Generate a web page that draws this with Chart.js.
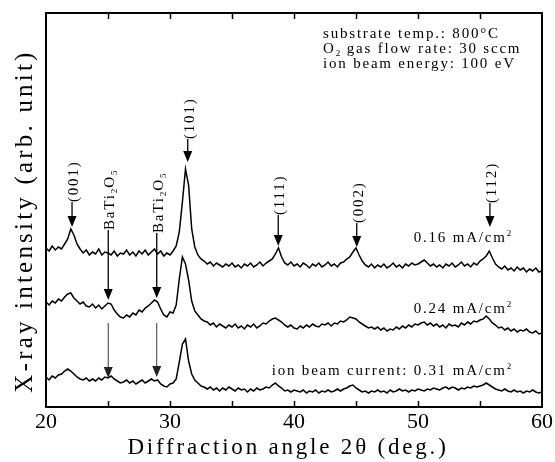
<!DOCTYPE html>
<html>
<head>
<meta charset="utf-8">
<script src="https://cdn.jsdelivr.net/npm/chart.js@4/dist/chart.umd.min.js"></script>
<style>
  html, body { margin: 0; padding: 0; background: #fff; }
  #wrap { width: 555px; height: 462px; }
</style>
</head>
<body>
<div id="wrap"><canvas id="c" width="555" height="462"></canvas></div>
<script>
// ---- data (2θ in degrees, intensity in arbitrary units) ----
const angles = [
  20,20.25,20.5,20.75,21,21.25,21.5,21.75,
  22,22.25,22.5,22.75,23,23.25,23.5,23.75,
  24,24.25,24.5,24.75,25,25.25,25.5,25.75,
  26,26.25,26.5,26.75,27,27.25,27.5,27.75,
  28,28.25,28.5,28.75,29,29.25,29.5,29.75,
  30,30.25,30.5,30.75,31,31.25,31.5,31.75,
  32,32.25,32.5,32.75,33,33.25,33.5,33.75,
  34,34.25,34.5,34.75,35,35.25,35.5,35.75,
  36,36.25,36.5,36.75,37,37.25,37.5,37.75,
  38,38.25,38.5,38.75,39,39.25,39.5,39.75,
  40,40.25,40.5,40.75,41,41.25,41.5,41.75,
  42,42.25,42.5,42.75,43,43.25,43.5,43.75,
  44,44.25,44.5,44.75,45,45.25,45.5,45.75,
  46,46.25,46.5,46.75,47,47.25,47.5,47.75,
  48,48.25,48.5,48.75,49,49.25,49.5,49.75,
  50,50.25,50.5,50.75,51,51.25,51.5,51.75,
  52,52.25,52.5,52.75,53,53.25,53.5,53.75,
  54,54.25,54.5,54.75,55,55.25,55.5,55.75,
  56,56.25,56.5,56.75,57,57.25,57.5,57.75,
  58,58.25,58.5,58.75,59,59.25,59.5,59.75,
  60
];
// ion beam current 0.16 mA/cm2 (top trace)
const current016 = [
  159,156,161,157,160,158,163,168,
  178,172,163,158,154,157,152,155,
  153,158,152,155,154,152,156,151,
  154,153,157,152,155,151,156,153,
  157,152,155,158,153,156,151,154,
  152,156,161,175,205,238,222,178,
  160,152,148,146,143,145,141,144,
  142,140,143,141,144,140,142,139,
  143,141,144,140,142,145,141,144,
  146,148,153,159,150,144,142,145,
  141,143,140,144,142,139,143,141,
  144,140,142,145,141,143,140,144,
  145,148,150,155,159,152,146,142,
  140,143,139,142,140,143,139,141,
  144,140,142,139,143,141,144,142,
  143,145,147,144,141,143,140,142,
  139,143,141,144,140,142,145,141,
  143,140,144,142,146,148,151,156,
  149,143,140,138,141,137,139,136,
  140,137,139,135,138,136,139,135,
  136
];
// ion beam current 0.24 mA/cm2 (middle trace)
const current024 = [
  105,102,106,104,108,106,110,113,
  114,109,106,103,105,101,100,103,
  99,102,98,101,104,103,97,93,
  90,89,92,90,94,92,97,95,
  99,101,104,107,105,98,92,90,
  95,94,102,128,150,143,127,106,
  96,92,88,86,85,82,84,80,
  83,81,79,82,80,83,79,81,
  78,82,80,83,79,81,84,83,
  86,88,89,87,85,82,80,82,
  79,78,81,79,82,80,83,81,
  80,83,82,84,81,84,83,86,
  85,87,90,89,88,85,83,81,
  79,80,78,80,77,79,76,78,
  77,80,78,81,79,82,80,83,
  82,84,85,82,84,81,83,80,
  82,79,83,81,82,80,84,82,
  85,83,86,85,87,88,91,88,
  84,82,79,80,77,79,76,78,
  75,77,76,78,75,74,76,73,
  74
];
// ion beam current 0.31 mA/cm2 (bottom trace)
const current031 = [
  30,27,31,29,32,33,36,38,
  36,33,30,28,27,29,26,28,
  26,29,27,30,29,31,28,26,
  24,25,27,24,26,23,25,27,
  24,26,28,26,27,23,21,20,
  23,24,28,45,63,68,46,33,
  27,24,21,20,18,20,17,19,
  16,19,17,20,18,16,19,17,
  18,15,18,16,19,17,18,20,
  19,22,24,21,19,16,17,15,
  17,16,15,17,14,16,15,17,
  14,16,15,17,15,16,18,16,
  18,19,21,22,19,17,15,16,
  14,16,15,17,15,16,14,17,
  15,16,18,16,17,15,17,16,
  18,17,16,18,17,19,18,17,
  19,20,18,20,19,17,19,18,
  20,19,21,20,21,22,24,22,
  20,18,17,16,18,16,15,17,
  15,16,14,16,15,17,15,14,
  15
];
const xTickLabels = [20, 30, 40, 50, 60];
const minorTicks = [25, 30, 35, 40, 45, 50, 55];

// peak assignments (Miller indices)
const peakNames  = ['(001)', '(101)', '(111)', '(002)', '(112)'];
const peakAngles = [22.1, 31.43, 38.73, 45.06, 55.8];
const peakTips   = [180, 245, 161, 160, 180];
const peakLabelAt = [205, 268, 192, 184, 204];

// BaTi2O5 impurity markers
const impurityAngles = [25.02, 28.93];
const impurityLabelAt = [177, 174];
const impurityTip1 = [107, 109];
const impurityStart2 = [84, 84];
const impurityTip2 = [29, 30];

// trace labels
const traceLabels = [
  [['0.16 mA/cm', 0], ['2', 1]],
  [['0.24 mA/cm', 0], ['2', 1]],
  [['ion beam current: 0.31 mA/cm', 0], ['2', 1]]
];
const traceLabelY = [170, 99, 37];
const traceLabelRight = 57.6;

const infoLines = [
  [['substrate temp.: 800°C', 0]],
  [['O', 0], ['2', -1], [' gas flow rate: 30 sccm', 0]],
  [['ion beam energy: 100 eV', 0]]
];
const infoY = [374, 359, 344];
const infoX = 42.34;

const xTitle = 'Diffraction angle 2θ (deg.)';
const yTitle = 'X-ray intensity (arb. unit)';

// ---- drawing helpers ----
const FAMILY = "'Liberation Serif', 'Times New Roman', serif";
function setSpacing(ctx, s) { if ('letterSpacing' in ctx) ctx.letterSpacing = s + 'px'; }
function richWidth(ctx, segs, size, spacing) {
  let w = 0;
  segs.forEach(([t, m]) => {
    const fs = m ? Math.round(size * 0.62) : size;
    ctx.font = fs + 'px ' + FAMILY;
    setSpacing(ctx, m ? spacing * 0.6 : spacing);
    w += ctx.measureText(t).width;
  });
  return w;
}
function drawRich(ctx, segs, x, y, align, size, spacing) {
  const w = richWidth(ctx, segs, size, spacing);
  let cx = align === 'right' ? x - w : align === 'center' ? x - w / 2 : x;
  const base = y + size * 0.33;
  ctx.textAlign = 'left';
  ctx.textBaseline = 'alphabetic';
  segs.forEach(([t, m]) => {
    const fs = m ? Math.round(size * 0.62) : size;
    ctx.font = fs + 'px ' + FAMILY;
    setSpacing(ctx, m ? spacing * 0.6 : spacing);
    const dy = m === 1 ? -size * 0.38 : m === -1 ? size * 0.22 : 0;
    ctx.fillText(t, cx, base + dy);
    cx += ctx.measureText(t).width;
  });
  setSpacing(ctx, 0);
}
function arrow(ctx, x, y0, y1, lw, color) {
  const hh = 11, hw = 4.5;
  ctx.strokeStyle = color; ctx.fillStyle = color; ctx.lineWidth = lw;
  ctx.beginPath(); ctx.moveTo(x, y0); ctx.lineTo(x, y1 - hh + 1); ctx.stroke();
  ctx.beginPath(); ctx.moveTo(x - hw, y1 - hh); ctx.lineTo(x + hw, y1 - hh); ctx.lineTo(x, y1); ctx.closePath(); ctx.fill();
}
function vText(ctx, segs, x, y, size, spacing) {
  ctx.save();
  ctx.translate(x, y);
  ctx.rotate(-Math.PI / 2);
  drawRich(ctx, segs, 0, 0, 'left', size, spacing);
  ctx.restore();
}

const decor = {
  id: 'decor',
  afterDraw(chart) {
    const { ctx, chartArea: ca, scales: { x, y } } = chart;
    ctx.save();
    // frame
    ctx.strokeStyle = '#000'; ctx.lineWidth = 2;
    ctx.strokeRect(ca.left, ca.top, ca.right - ca.left, ca.bottom - ca.top);
    // inward tick marks
    ctx.lineWidth = 1.5;
    minorTicks.forEach(v => {
      const px = Math.round(x.getPixelForValue(v)) + 0.5;
      ctx.beginPath(); ctx.moveTo(px, ca.bottom); ctx.lineTo(px, ca.bottom - 6); ctx.stroke();
      ctx.beginPath(); ctx.moveTo(px, ca.top); ctx.lineTo(px, ca.top + 6); ctx.stroke();
    });
    ctx.fillStyle = '#000';
    // peak labels
    peakNames.forEach((n, i) => {
      const px = x.getPixelForValue(peakAngles[i]);
      const yl = y.getPixelForValue(peakLabelAt[i]);
      const yt = y.getPixelForValue(peakTips[i]);
      arrow(ctx, px, yl, yt, 1.3, '#000');
      ctx.fillStyle = '#000';
      vText(ctx, [[n, 0]], px + 1, yl, 15, 1.8);
    });
    // impurity markers
    impurityAngles.forEach((a, i) => {
      const px = x.getPixelForValue(a);
      const yl = y.getPixelForValue(impurityLabelAt[i]);
      arrow(ctx, px, yl, y.getPixelForValue(impurityTip1[i]), 1.3, '#000');
      arrow(ctx, px, y.getPixelForValue(impurityStart2[i]), y.getPixelForValue(impurityTip2[i]), 0.9, '#222');
      ctx.fillStyle = '#000';
      vText(ctx, [['BaTi', 0], ['2', -1], ['O', 0], ['5', -1]], px + 1, yl, 15, 1.8);
    });
    // trace labels
    ctx.fillStyle = '#000';
    traceLabels.forEach((segs, i) => {
      drawRich(ctx, segs, x.getPixelForValue(traceLabelRight), y.getPixelForValue(traceLabelY[i]), 'right', 15, 1.8);
    });
    // info block
    infoLines.forEach((segs, i) => {
      drawRich(ctx, segs, x.getPixelForValue(infoX), y.getPixelForValue(infoY[i]), 'left', 15, 1.8);
    });
    // axis titles
    drawRich(ctx, [[xTitle, 0]], (ca.left + ca.right) / 2 - 6, 446, 'center', 23, 2.8);
    ctx.save();
    ctx.translate(24, (ca.top + ca.bottom) / 2 + 11);
    ctx.rotate(-Math.PI / 2);
    drawRich(ctx, [[yTitle, 0]], 0, 0, 'center', 25, 3.2);
    ctx.restore();
    ctx.restore();
  }
};

const mk = (vals) => angles.map((a, i) => ({ x: a, y: vals[i] }));
const ds = (label, vals) => ({
  label, data: mk(vals), showLine: true, pointRadius: 0,
  borderColor: '#000', borderWidth: 1.5, tension: 0, fill: false
});

new Chart(document.getElementById('c'), {
  type: 'scatter',
  data: {
    datasets: [
      ds('0.16 mA/cm²', current016),
      ds('0.24 mA/cm²', current024),
      ds('0.31 mA/cm²', current031)
    ]
  },
  options: {
    responsive: false,
    animation: false,
    layout: { padding: { left: 46, right: 13, top: 13, bottom: 0 } },
    plugins: { legend: { display: false }, tooltip: { enabled: false } },
    scales: {
      x: {
        type: 'linear', min: 20, max: 60,
        afterBuildTicks: (s) => { s.ticks = xTickLabels.map(v => ({ value: v })); },
        afterFit: (s) => { s.height = 55; },
        grid: { display: false, drawTicks: false },
        border: { display: false },
        ticks: {
          color: '#000', padding: 2, maxRotation: 0, autoSkip: false,
          font: { family: FAMILY, size: 22 }
        }
      },
      y: { display: false, min: 0, max: 394 }
    }
  },
  plugins: [decor]
});
</script>
</body>
</html>
